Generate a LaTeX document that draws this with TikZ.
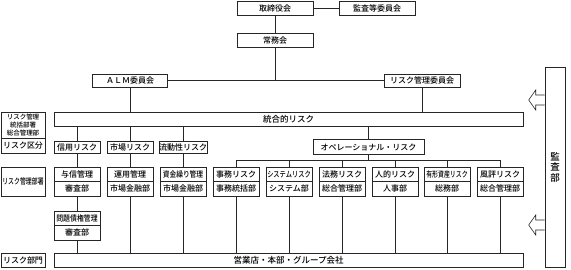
\documentclass[tikz,border=0pt]{standalone}
\usepackage{fontspec}
\setmainfont{Noto Sans CJK JP}[UprightFont=* Medium]
\usepackage{graphicx}
\usetikzlibrary{positioning,calc}

\newcommand{\narrowtext}[2]{\scalebox{#1}[1]{#2}}

\tikzset{
  box/.style={draw=black!85, line width=0.6pt, fill=white, inner sep=0pt,
    minimum height=14pt, font=\fontsize{8}{9}\selectfont},
  colbox/.style={box, minimum width=46pt, minimum height=14.5pt},
  labelbox/.style={box, minimum width=44pt},
  link/.style={draw=black!85, line width=0.6pt},
}

\begin{document}
\begin{tikzpicture}[x=1pt, y=-1pt]
        \useasboundingbox (0,0) rectangle (571,269);

        % Board, executive committee and the two committees
        \node[box, minimum width=76pt] (board) at (275,8) {取締役会};
        \node[box, minimum width=76pt] (auditcomm) at (377,8) {監査等委員会};
        \node[box, minimum width=76pt] (exec) at (275,40) {常務会};
        \node[box, minimum width=75pt, minimum height=13pt] (alm) at (130,80.5) {ＡＬＭ委員会};
        \node[box, minimum width=76pt, minimum height=13pt] (riskcomm) at (422,80.5) {リスク管理委員会};

        % Wide bars
        \node[box, minimum width=469pt, font=\fontsize{8.5}{9}\selectfont] (integrated) at (288.5,119) {統合的リスク};
        \node[box, minimum width=469pt, font=\fontsize{8.5}{9}\selectfont] (branches) at (288.5,260) {営業店・本部・グループ会社};

        % Left-hand row labels
        \node[labelbox, minimum height=26pt, align=center, font=\fontsize{6.5}{7.8}\selectfont] (lblhead) at (23,125)
            {リスク管理\\統括部署\\総合管理部};
        \node[labelbox, minimum height=15pt] (lblclass) at (23,145.5) {リスク区分};
        \node[labelbox, minimum height=29pt] (lbldept) at (23,181.5) {\narrowtext{0.74}{リスク管理部署}};
        \node[labelbox] (lblunit) at (23,260) {リスク部門};

        % Risk categories
        \node[colbox, minimum height=12pt] (credit) at (77,147) {信用リスク};
        \node[colbox, minimum height=12pt] (market) at (130,147) {市場リスク};
        \node[colbox, minimum height=12pt] (liquid) at (183,147) {流動性リスク};
        \node[box, minimum width=111pt, minimum height=14.5pt] (oper) at (368.5,147) {オペレーショナル・リスク};

        % Managing departments (risk / department)
        \node[colbox] (yoshin) at (77,174.25) {与信管理};
        \node[colbox] (yoshinb) at (77,188.75) {審査部};
        \node[colbox] (unyo) at (130,174.25) {運用管理};
        \node[colbox] (unyob) at (130,188.75) {市場金融部};
        \node[colbox] (shikin) at (183,174.25) {\narrowtext{0.84}{資金繰り管理}};
        \node[colbox] (shikinb) at (183,188.75) {市場金融部};
        \node[colbox] (jimu) at (236,174.25) {事務リスク};
        \node[colbox] (jimub) at (236,188.75) {事務統括部};
        \node[colbox] (system) at (289,174.25) {\narrowtext{0.78}{システムリスク}};
        \node[colbox] (systemb) at (289,188.75) {システム部};
        \node[colbox] (homu) at (342,174.25) {法務リスク};
        \node[colbox] (homub) at (342,188.75) {総合管理部};
        \node[colbox] (jinteki) at (395,174.25) {人的リスク};
        \node[colbox] (jintekib) at (395,188.75) {人事部};
        \node[colbox] (yukei) at (447,174.25) {\narrowtext{0.74}{有形資産リスク}};
        \node[colbox] (yukeib) at (447,188.75) {総務部};
        \node[colbox] (fuhyo) at (500,174.25) {風評リスク};
        \node[colbox] (fuhyob) at (500,188.75) {総合管理部};
        \node[colbox] (mondai) at (77,218.25) {\narrowtext{0.86}{問題債権管理}};
        \node[colbox] (mondaib) at (77,232.75) {審査部};

        % Audit department
        \node[box, minimum width=20pt, minimum height=200pt, align=center,
            font=\fontsize{9.5}{10.5}\selectfont] (audit) at (555,167) {監\\査\\部};

        % Upper connectors
        \draw[link] (board) -- (auditcomm);
        \draw[link] (board) -- (exec);
        \draw[link] (alm) -- (riskcomm);
        \draw[link] (exec.south) -- (exec.south |- alm);
        \draw[link] (alm.south) -- (alm.south |- integrated.north);
        \draw[link] (riskcomm.south) -- (riskcomm.south |- integrated.north);

        % Integrated risk to categories
        \draw[link] (integrated.south -| credit) -- (credit.north);
        \draw[link] (integrated.south -| market) -- (market.north);
        \draw[link] (integrated.south -| liquid) -- (liquid.north);
        \draw[link] (integrated.south -| oper) -- (oper.north);
        \draw[link] (credit) -- (yoshin);
        \draw[link] (market) -- (unyo);
        \draw[link] (liquid) -- (shikin);

        % Operational risk bus
        \coordinate (busL) at (236,160);
        \coordinate (busR) at (500,160);
        \draw[link] (busL) -- (busR);
        \draw[link] (oper.south) -- (oper.south |- busL);
        \draw[link] (jimu.north |- busL) -- (jimu.north);
        \draw[link] (system.north |- busL) -- (system.north);
        \draw[link] (homu.north |- busL) -- (homu.north);
        \draw[link] (jinteki.north |- busL) -- (jinteki.north);
        \draw[link] (yukei.north |- busL) -- (yukei.north);
        \draw[link] (fuhyo.north |- busL) -- (fuhyo.north);

        % Departments down to the business units
        \draw[link] (yoshinb) -- (mondai);
        \draw[link] (mondaib.south) -- (mondaib.south |- branches.north);
        \draw[link] (unyob.south) -- (unyob.south |- branches.north);
        \draw[link] (shikinb.south) -- (shikinb.south |- branches.north);
        \draw[link] (jimub.south) -- (jimub.south |- branches.north);
        \draw[link] (systemb.south) -- (systemb.south |- branches.north);
        \draw[link] (homub.south) -- (homub.south |- branches.north);
        \draw[link] (jintekib.south) -- (jintekib.south |- branches.north);
        \draw[link] (yukeib.south) -- (yukeib.south |- branches.north);
        \draw[link] (fuhyob.south) -- (fuhyob.south |- branches.north);

        % Hollow audit arrows
        \draw[link, fill=white] (audit.west |- 0,95) -- ++(-9,0) -- ++(0,-5) -- ++(-7,10)
            -- ++(7,10) -- ++(0,-5) -- ++(9,0);
        \draw[link, fill=white] (audit.west |- 0,220) -- ++(-9,0) -- ++(0,-5) -- ++(-7,10)
            -- ++(7,10) -- ++(0,-5) -- ++(9,0);
    \end{tikzpicture}
\end{document}
